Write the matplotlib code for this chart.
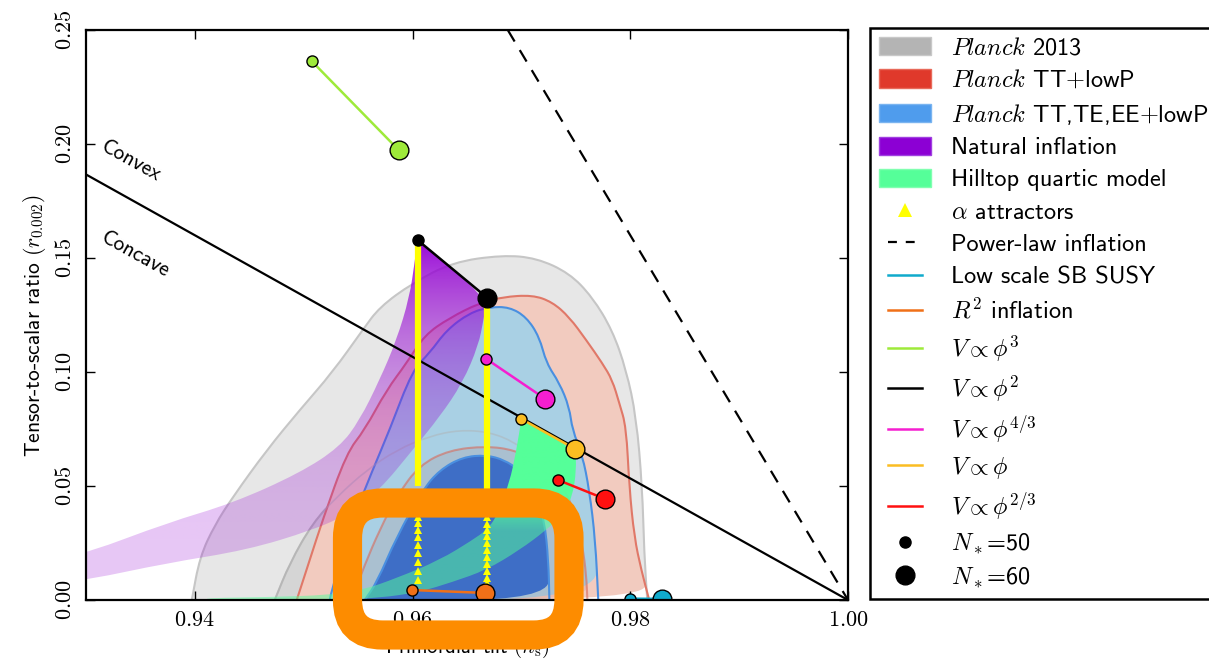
import numpy as np
import matplotlib
matplotlib.use('Agg')
import matplotlib.pyplot as plt
from matplotlib.patches import Patch, PathPatch, FancyBboxPatch
from matplotlib.path import Path
from matplotlib.lines import Line2D
from matplotlib.legend_handler import HandlerLine2D
from matplotlib.colors import to_rgb
from matplotlib.transforms import IdentityTransform
from matplotlib.ticker import FuncFormatter

plt.rcParams['font.family'] = 'cmss10'
plt.rcParams['mathtext.fontset'] = 'cm'
plt.rcParams['axes.unicode_minus'] = False

# ---- Planck contours (ns, r) ----
p13_95_ns = [0.93972, 0.94046, 0.94183, 0.94349, 0.94661, 0.94963, 0.95266, 0.95541, 0.95697, 0.96000,
             0.96367, 0.96826, 0.97138, 0.97440, 0.97651, 0.97835, 0.97963, 0.98055, 0.98110, 0.98128, 0.98156]
p13_95_r = [0.0, 0.0189, 0.0329, 0.0452, 0.0658, 0.0833, 0.1000, 0.1184, 0.1285, 0.1390,
            0.1482, 0.1513, 0.1500, 0.1434, 0.1329, 0.1184, 0.1009, 0.0803, 0.0496, 0.0206, 0.0]
p13_68_ns = [0.94734, 0.94872, 0.95083, 0.95303, 0.95578, 0.95853, 0.96156, 0.96431, 0.96706, 0.96936,
             0.97165, 0.97349, 0.97440, 0.97486, 0.97495]
p13_68_r = [0.0, 0.0162, 0.0338, 0.0452, 0.0570, 0.0658, 0.0719, 0.0746, 0.0737, 0.0693,
            0.0614, 0.0482, 0.0307, 0.0132, 0.0]

tt_95_ns = [0.94936, 0.95055, 0.95174, 0.95394, 0.95560, 0.95761, 0.95945, 0.96110, 0.96339, 0.96615,
            0.96826, 0.97101, 0.97284, 0.97440, 0.97596, 0.97743, 0.97835, 0.97899, 0.97963, 0.97991,
            0.98037, 0.98101, 0.98174]
tt_95_r = [0.0, 0.0175, 0.0351, 0.0645, 0.0746, 0.0921, 0.1039, 0.1162, 0.1237, 0.1303,
           0.1329, 0.1338, 0.1307, 0.1241, 0.1140, 0.1039, 0.0965, 0.0864, 0.0759, 0.0496,
           0.0276, 0.0132, 0.0]
tt_68_ns = [0.95440, 0.95560, 0.95697, 0.95862, 0.96064, 0.96339, 0.96679, 0.96936, 0.97165, 0.97349,
            0.97486, 0.97560, 0.97596, 0.97606]
tt_68_r = [0.0, 0.0154, 0.0307, 0.0461, 0.0592, 0.0658, 0.0675, 0.0658, 0.0605, 0.0526,
           0.0395, 0.0241, 0.0110, 0.0]

ttteee_95_ns = [0.95239, 0.95266, 0.95450, 0.95633, 0.95789, 0.96000, 0.96156, 0.96312, 0.96523, 0.96706,
                0.96890, 0.97046, 0.97165, 0.97229, 0.97349, 0.97440, 0.97468, 0.97560, 0.97624, 0.97679,
                0.97706]
ttteee_95_r = [0.0, 0.0057, 0.0351, 0.0570, 0.0746, 0.1009, 0.1083, 0.1184, 0.1259, 0.1285,
               0.1285, 0.1241, 0.1154, 0.1039, 0.0952, 0.0846, 0.0746, 0.0636, 0.0482, 0.0263,
               0.0]
ttteee_68_ns = [0.95560, 0.95670, 0.95853, 0.96092, 0.96248, 0.96459, 0.96679, 0.96844, 0.96982, 0.97119,
                0.97211, 0.97248, 0.97257]
ttteee_68_r = [0.0, 0.0075, 0.0276, 0.0482, 0.0570, 0.0627, 0.0636, 0.0614, 0.0570, 0.0482,
               0.0351, 0.0175, 0.0]

# ---- model bands ----
natural_n50_ns = [0.96046, 0.96018, 0.95972, 0.95853, 0.95697, 0.95514, 0.95330, 0.94963, 0.94349,
                  0.93743, 0.93009, 0.9280]
natural_n50_r = [0.1579, 0.1478, 0.1329, 0.1140, 0.0965, 0.0789, 0.0671, 0.0557, 0.0425,
                 0.0338, 0.0206, 0.0198]
natural_n60_ns = [0.96688, 0.96651, 0.96606, 0.96459, 0.96248, 0.96000, 0.95697, 0.95394, 0.95083,
                  0.94477, 0.93743, 0.93009, 0.9280]
natural_n60_r = [0.1325, 0.1228, 0.1118, 0.0952, 0.0803, 0.0658, 0.0482, 0.0373, 0.0307,
                 0.0219, 0.0162, 0.0088, 0.0083]

hill_n50_ns = [0.97000, 0.96954, 0.96890, 0.96771, 0.96679, 0.96550, 0.96248, 0.95853, 0.95541,
               0.95239, 0.94688, 0.94110]
hill_n50_r = [0.0794, 0.0658, 0.0513, 0.0364, 0.0307, 0.0263, 0.0175, 0.0096, 0.0044,
              0.0022, 0.0013, 0.0009]
hill_n60_ns = [0.94110, 0.95239, 0.95697, 0.96064, 0.96367, 0.96679, 0.96982, 0.97229, 0.97376,
               0.97468, 0.97505, 0.97495]
hill_n60_r = [0.0, 0.0, 0.0009, 0.0035, 0.0079, 0.0132, 0.0219, 0.0307, 0.0373,
              0.0452, 0.0570, 0.0662]

# alpha attractors (N=50, N=60)
alpha_ns = [0.96046, 0.96688]
alpha_top = [0.1579, 0.1325]
alpha_solid_end = [0.050, 0.048]
alpha_tri_r50 = [0.0465, 0.0439, 0.0412, 0.0390, 0.0364, 0.0338, 0.0307, 0.0276, 0.0241,
                 0.0206, 0.0167, 0.0127, 0.0088]
alpha_tri_r60 = [0.0450, 0.0420, 0.0390, 0.0362, 0.0335, 0.0307, 0.0280, 0.0250, 0.0220,
                 0.0190, 0.0160, 0.0128, 0.0097, 0.0075]

# power law and convex/concave boundary
powerlaw_ns = [0.96875, 1.0]
powerlaw_r = [0.25, 0.0]
linear_ns = [0.93, 1.0]
linear_r = [0.18667, 0.0]

# potentials: (label, color, [ns N50, ns N60], [r N50, r N60])
models = [
    ('Low scale SB SUSY', '#10aacc', [0.98000, 0.98294], [0.0006, 0.0005]),
    ('$R^2$ inflation', '#f07018', [0.95991, 0.96670], [0.0044, 0.0031]),
    (r'$V\propto\phi^3$', '#9eea3a', [0.95073, 0.95872], [0.2364, 0.1974]),
    (r'$V\propto\phi^2$', 'black', [0.96046, 0.96688], [0.1579, 0.1325]),
    (r'$V\propto\phi^{4/3}$', '#f51ed0', [0.96679, 0.97220], [0.1057, 0.0882]),
    (r'$V\propto\phi$', '#fbbd22', [0.97000, 0.97495], [0.0794, 0.0662]),
    (r'$V\propto\phi^{2/3}$', '#ff1010', [0.97339, 0.97771], [0.0526, 0.0443]),
]

x_ticks = [0.94, 0.96, 0.98, 1.00]
y_ticks = [0.00, 0.05, 0.10, 0.15, 0.20, 0.25]

fig = plt.figure(figsize=(12.09, 6.65), dpi=100)
ax = fig.add_axes([0.0711, 0.0977, 0.6303, 0.8571])


def smooth_path(ns, r, closed=False):
    # quadratic bezier through midpoints: rounds the corners of the traced outline
    p = np.column_stack([ns, r])
    if closed:
        p = np.vstack([p, p[:1]])
    verts = [p[0], (p[0] + p[1]) / 2]
    codes = [Path.MOVETO, Path.LINETO]
    for i in range(1, len(p) - 1):
        verts += [p[i], (p[i] + p[i + 1]) / 2]
        codes += [Path.CURVE3, Path.CURVE3]
    verts.append(p[-1])
    codes.append(Path.LINETO)
    return Path(np.array(verts), codes)


def region(ns, r, face, edge, z, lw=1.5, alpha=1.0, edge_alpha=1.0):
    if face:
        ax.add_patch(PathPatch(smooth_path(ns, r, True), facecolor=face, edgecolor='none',
                               zorder=z, alpha=alpha))
    if edge:
        ax.add_patch(PathPatch(smooth_path(ns, r), facecolor='none', edgecolor=edge, lw=lw,
                               zorder=z + 0.05, alpha=edge_alpha))


def gradient_band(ns, r, color, a_lo, a_hi, r_lo, r_hi, power, z):
    poly = PathPatch(smooth_path(ns, r, True), facecolor='none', edgecolor='none',
                     transform=ax.transData)
    ax.add_patch(poly)
    rr = np.linspace(0, 0.25, 400)[:, None] * np.ones((1, 2))
    t = np.clip((rr - r_lo) / (r_hi - r_lo), 0, 1) ** power
    img = np.zeros((400, 2, 4))
    img[..., :3] = to_rgb(color)
    img[..., 3] = a_lo + (a_hi - a_lo) * t
    im = ax.imshow(img, extent=(0.92, 1.0, 0, 0.25), origin='lower', aspect='auto',
                   interpolation='bilinear', zorder=z)
    im.set_clip_path(poly)


region(p13_95_ns, p13_95_r, '#e7e7e7', '#c6c6c6', 1.0)
region(p13_68_ns, p13_68_r, '#d5d5d5', '#bcbcbc', 1.1)
region(tt_95_ns, tt_95_r, '#f2cbbf', '#e07868', 1.2)
region(ttteee_95_ns, ttteee_95_r, '#a9d0e4', '#4a8fe0', 1.3)
region(tt_68_ns, tt_68_r, '#b07878', '#d86a5a', 1.35, alpha=0.18, edge_alpha=0.6)
region(ttteee_68_ns, ttteee_68_r, '#3e6ec6', '#4a8fe0', 1.4)
region(p13_68_ns, p13_68_r, None, '#b0b0b0', 1.5, lw=1.2, edge_alpha=0.45)

nat_ns = natural_n50_ns + natural_n60_ns[::-1]
nat_r = natural_n50_r + natural_n60_r[::-1]
gradient_band(nat_ns, nat_r, '#9400d3', 0.22, 0.97, 0.0, 0.158, 3.0, 2.0)

hill_ns = hill_n50_ns + hill_n60_ns
hill_r = hill_n50_r + hill_n60_r
gradient_band(hill_ns, hill_r, '#55ff99', 0.5, 1.0, 0.03, 0.048, 1.0, 2.2)

ax.plot(linear_ns, linear_r, color='black', lw=1.6, zorder=3)
ax.plot(powerlaw_ns, powerlaw_r, color='black', lw=1.6, dashes=(6, 4.5), zorder=3)

for ns, top, end in zip(alpha_ns, alpha_top, alpha_solid_end):
    ax.plot([ns, ns], [top, end], color='#ffff00', lw=4.5, zorder=4, solid_capstyle='butt')
ax.plot([alpha_ns[0]] * len(alpha_tri_r50), alpha_tri_r50, linestyle='none', marker='^',
        ms=5.5, color='#ffff00', markeredgewidth=0, zorder=4)
ax.plot([alpha_ns[1]] * len(alpha_tri_r60), alpha_tri_r60, linestyle='none', marker='^',
        ms=5.5, color='#ffff00', markeredgewidth=0, zorder=4)

for label, color, ns, r in models:
    ax.plot(ns, r, color=color, lw=1.8, zorder=5)
    ax.plot(ns[0], r[0], 'o', ms=8, color=color, mec='black', mew=1, zorder=6)
    ax.plot(ns[1], r[1], 'o', ms=13.5, color=color, mec='black', mew=1, zorder=6)

ax.text(0.93130, 0.1975, 'Convex', rotation=-29, rotation_mode='anchor',
        ha='left', va='baseline', fontsize=15.5)
ax.text(0.93130, 0.1575, 'Concave', rotation=-29, rotation_mode='anchor',
        ha='left', va='baseline', fontsize=15.5)

ax.set_xlim(0.93, 1.0)
ax.set_ylim(0.0, 0.25)
ax.set_xticks(x_ticks)
ax.set_yticks(y_ticks)
fmt = FuncFormatter(lambda v, p: '$%.2f$' % v)
ax.xaxis.set_major_formatter(fmt)
ax.yaxis.set_major_formatter(fmt)
ax.tick_params(direction='in', length=6.5, width=1, top=True, right=True, labelsize=16, pad=8)
for lab in ax.get_yticklabels():
    lab.set_rotation(90)
    lab.set_va('center')
for sp in ax.spines.values():
    sp.set_linewidth(1.6)
    sp.set_zorder(10)
ax.set_xlabel(r'Primordial tilt $(n_\mathrm{s})$', fontsize=15, labelpad=4)
ax.set_ylabel(r'Tensor-to-scalar ratio $(r_{0.002})$', fontsize=15.5, labelpad=5)
ax.yaxis.label.set_y(0.482)


class ShortLine(HandlerLine2D):
    def get_xdata(self, legend, xdescent, ydescent, width, height, fontsize):
        return ([-xdescent + 0.17 * width, -xdescent + 0.83 * width],
                [-xdescent + 0.5 * width])


handles = [
    Patch(facecolor='#b4b4b4', edgecolor='#c8c8c8'),
    Patch(facecolor='#e0392b', edgecolor='#e86a5a'),
    Patch(facecolor='#4f9ced', edgecolor='#7ab4f0'),
    Patch(facecolor='#8c00d4', edgecolor='#a040e0'),
    Patch(facecolor='#55ff99', edgecolor='#80ffb0'),
    Line2D([], [], linestyle='none', marker='^', ms=10, color='#ffff00', mew=0),
    Line2D([], [], color='black', lw=1.6, dashes=(4, 4)),
]
labels = [r'$\mathit{Planck}$ 2013', r'$\mathit{Planck}$ TT$+$lowP',
          r'$\mathit{Planck}$ TT,TE,EE$+$lowP', 'Natural inflation', 'Hilltop quartic model',
          r'$\alpha$ attractors', 'Power-law inflation']
for label, color, ns, r in models:
    handles.append(Line2D([], [], color=color, lw=1.8))
    labels.append(label)
handles.append(Line2D([], [], linestyle='none', marker='o', ms=8, color='black'))
labels.append(r'$N_*$=50')
handles.append(Line2D([], [], linestyle='none', marker='o', ms=13.5, color='black'))
labels.append(r'$N_*$=60')

leg = fig.legend(handles, labels, loc='upper left', bbox_to_anchor=(0.7196, 0.9579),
                 bbox_transform=fig.transFigure, borderaxespad=0, fontsize=17.5,
                 handlelength=2.14, handleheight=0.78, handletextpad=0.82, labelspacing=0.40,
                 borderpad=0.37, fancybox=False, edgecolor='black', framealpha=1,
                 handler_map={Line2D: ShortLine()})
leg.get_frame().set_linewidth(1.8)

# orange highlight box (pixel coordinates)
box_x, box_y, box_w, box_h, box_round = 347.5, 30, 221.5, 132, 35
fig.add_artist(FancyBboxPatch((box_x, box_y), box_w, box_h,
                              boxstyle='round,pad=0,rounding_size=%g' % box_round,
                              transform=IdentityTransform(), facecolor='none',
                              edgecolor='#fd8c00', lw=21, zorder=30))

fig.savefig('out.png', dpi=100)
